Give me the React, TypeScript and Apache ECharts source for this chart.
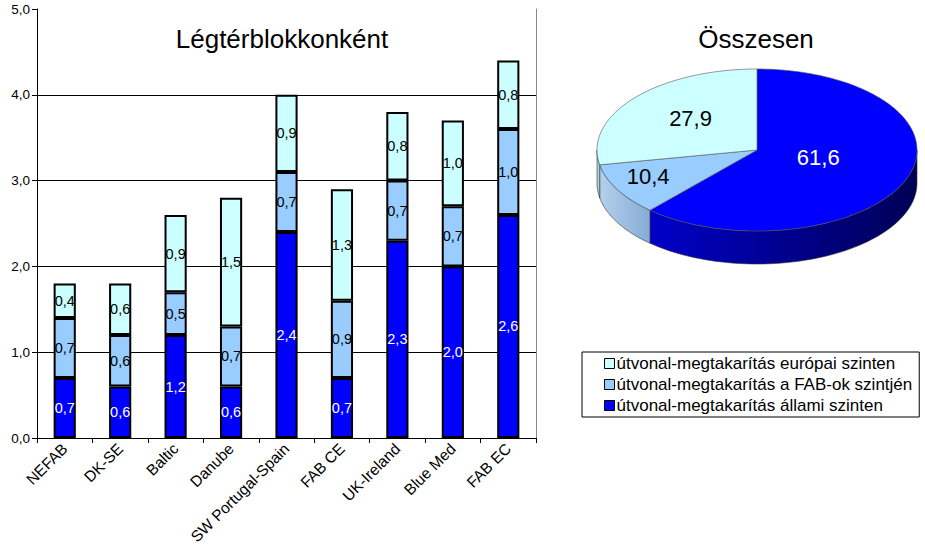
import React, { useEffect, useRef } from "react";
import * as echarts from "echarts";

// ---- data ----
const categories = ["NEFAB", "DK-SE", "Baltic", "Danube", "SW Portugal-Spain", "FAB CE", "UK-Ireland", "Blue Med", "FAB EC"];
const allamiValues = [0.7, 0.6, 1.2, 0.6, 2.4, 0.7, 2.3, 2.0, 2.6];
const fabValues = [0.7, 0.6, 0.5, 0.7, 0.7, 0.9, 0.7, 0.7, 1.0];
const europaiValues = [0.4, 0.6, 0.9, 1.5, 0.9, 1.3, 0.8, 1.0, 0.8];
const seriesNames = [
  "útvonal-megtakarítás állami szinten",
  "útvonal-megtakarítás a FAB-ok szintjén",
  "útvonal-megtakarítás európai szinten",
];
const pieValues = [61.6, 10.4, 27.9];
const yMin = 0;
const yMax = 5;
const yStep = 1;

const FONT = "'Liberation Sans', Arial, sans-serif";
const fmt = (v: number) => v.toFixed(1).replace(".", ",");

// pie geometry & style
const CX = 757, CY = 150, RX = 160, RY = 81, DEPTH = 33;
const TOP_COLORS = ["#0000FF", "#99CCFF", "#CCFFFF"];
const SIDE_COLORS = [
  ["#0000C8", "#000055"],
  ["#B4D0EC", "#86ACD4"],
  ["#A8D8D8", "#A0D0D0"],
];
const LABEL_R = [0.41, 0.78, 0.54];
const LABEL_COLORS = ["#FFFFFF", "#000000", "#000000"];

function pt(theta: number, dy = 0): number[] {
  return [CX + RX * Math.sin(theta), CY - RY * Math.cos(theta) + dy];
}

function arcPts(a0: number, a1: number, dy = 0): number[][] {
  const n = Math.max(2, Math.ceil(((a1 - a0) / (2 * Math.PI)) * 200));
  const out: number[][] = [];
  for (let k = 0; k <= n; k++) out.push(pt(a0 + ((a1 - a0) * k) / n, dy));
  return out;
}

export default function App() {
  const ref = useRef<HTMLDivElement>(null);
  useEffect(() => {
    if (!ref.current) return;
    const chart = echarts.init(ref.current, undefined, { renderer: "svg" });
    const total = pieValues.reduce((a, b) => a + b, 0);

    const barLabel = (color: string) => ({
      show: true,
      position: "inside",
      color,
      fontSize: 14.5,
      fontFamily: FONT,
      formatter: (p: any) => fmt(p.value),
    });

    const renderPie = (params: any, api: any) => {
      const i = params.dataIndex;
      const v = api.value(0);
      let before = 0;
      for (let j = 0; j < i; j++) before += pieValues[j];
      const a0 = (before / total) * 2 * Math.PI;
      const a1 = ((before + v) / total) * 2 * Math.PI;
      const children: any[] = [];
      const s0 = Math.max(a0, Math.PI / 2);
      const s1 = Math.min(a1, (3 * Math.PI) / 2);
      if (s1 > s0) {
        const pts = arcPts(s0, s1, 0).concat(arcPts(s0, s1, DEPTH).reverse());
        children.push({
          type: "polygon",
          shape: { points: pts },
          style: {
            fill: new echarts.graphic.LinearGradient(0, 0, 1, 0, [
              { offset: 0, color: SIDE_COLORS[i][0] },
              { offset: 1, color: SIDE_COLORS[i][1] },
            ]),
            stroke: "#333",
            lineWidth: 0.6,
          },
        });
      }
      const topPts = [[CX, CY]].concat(arcPts(a0, a1, 0));
      children.push({
        type: "polygon",
        shape: { points: topPts },
        style: { fill: TOP_COLORS[i], stroke: "#555", lineWidth: 0.6 },
      });
      const mid = (a0 + a1) / 2;
      const f = LABEL_R[i];
      children.push({
        type: "text",
        style: {
          text: fmt(v),
          x: CX + RX * f * Math.sin(mid),
          y: CY - RY * f * Math.cos(mid) - 4,
          fill: LABEL_COLORS[i],
          fontSize: 22,
          fontFamily: FONT,
          align: "center",
          verticalAlign: "middle",
        },
      });
      return { type: "group", children };
    };

    chart.setOption({
      animation: false,
      textStyle: { fontFamily: FONT },
      title: [
        {
          text: "Légtérblokkonként",
          left: 277,
          top: 21,
          textAlign: "center",
          textStyle: { fontSize: 26, fontWeight: "normal", color: "#000", fontFamily: FONT },
        },
        {
          text: "Összesen",
          left: 751,
          top: 21,
          textAlign: "center",
          textStyle: { fontSize: 26, fontWeight: "normal", color: "#000", fontFamily: FONT },
        },
      ],
      legend: {
        orient: "vertical",
        left: 582,
        top: 352,
        data: [seriesNames[2], seriesNames[1], seriesNames[0]],
        itemWidth: 10,
        itemHeight: 10,
        itemGap: 4,
        icon: "rect",
        borderColor: "#000",
        borderWidth: 1,
        padding: [3, 7, 3, 22],
        itemStyle: { borderColor: "#000", borderWidth: 1 },
        textStyle: { fontSize: 17, color: "#000", fontFamily: FONT, padding: [0, 0, 0, -3] },
      },
      grid: { left: 37, right: 389, top: 9, bottom: 118, containLabel: false },
      xAxis: {
        type: "category",
        data: categories,
        boundaryGap: true,
        axisLine: { lineStyle: { color: "#000" } },
        axisTick: { show: true, length: 5, lineStyle: { color: "#000" } },
        axisLabel: { rotate: 45, interval: 0, fontSize: 15.5, color: "#000", fontFamily: FONT, margin: 8 },
      },
      yAxis: [
        {
          type: "value",
          min: yMin,
          max: yMax,
          interval: yStep,
          axisLine: { show: true, lineStyle: { color: "#000" } },
          axisTick: { show: true, length: 5, lineStyle: { color: "#000" } },
          axisLabel: { formatter: (v: number) => fmt(v), fontSize: 13.5, color: "#000", fontFamily: FONT, margin: 7 },
          splitLine: { show: true, showMinLine: false, showMaxLine: false, lineStyle: { color: "#000", width: 1 } },
        },
        {
          type: "value",
          min: yMin,
          max: yMax,
          interval: yStep,
          position: "right",
          axisLine: { show: true, lineStyle: { color: "#888" } },
          axisTick: { show: false },
          axisLabel: { show: false },
          splitLine: { show: false },
        },
      ],
      series: [
        {
          name: seriesNames[0],
          type: "bar",
          stack: "total",
          data: allamiValues,
          barWidth: "40%",
          itemStyle: { color: "#0000FF", borderColor: "#000", borderWidth: 2 },
          label: barLabel("#FFFFFF"),
        },
        {
          name: seriesNames[1],
          type: "bar",
          stack: "total",
          data: fabValues,
          barWidth: "40%",
          itemStyle: { color: "#99CCFF", borderColor: "#000", borderWidth: 2 },
          label: barLabel("#000000"),
        },
        {
          name: seriesNames[2],
          type: "bar",
          stack: "total",
          data: europaiValues,
          barWidth: "40%",
          itemStyle: { color: "#CCFFFF", borderColor: "#000", borderWidth: 2 },
          label: barLabel("#000000"),
        },
        {
          name: "Összesen",
          type: "custom",
          coordinateSystem: "none",
          renderItem: renderPie,
          data: pieValues,
          silent: true,
        },
      ],
    });
    return () => chart.dispose();
  }, []);
  return (
    <div
      ref={ref}
      style={{ position: "fixed", left: 0, top: 0, width: 925, height: 556, background: "#fff" }}
    />
  );
}
